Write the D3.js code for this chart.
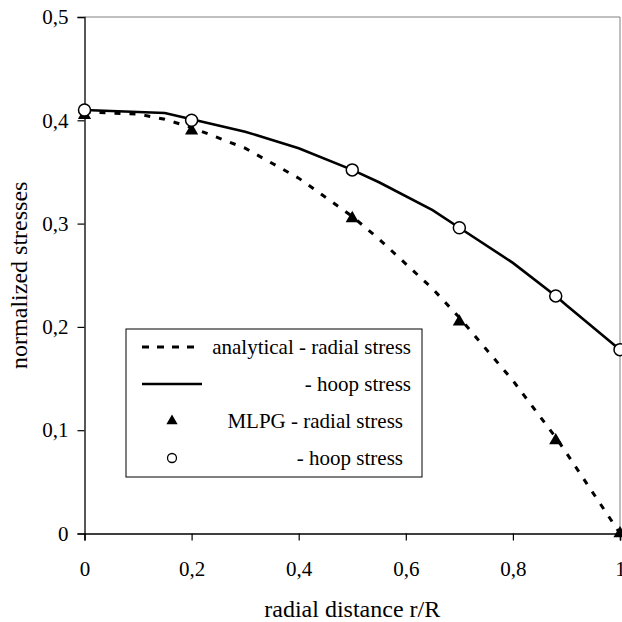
<!DOCTYPE html>
<html><head><meta charset="utf-8">
<script src="https://cdn.jsdelivr.net/npm/d3@7"></script>
<style>
html,body{margin:0;padding:0;background:#fff;}
svg{display:block;}
text{font-family:"Liberation Serif","Times New Roman",serif;fill:#000;}
</style></head>
<body><svg id="c" width="622" height="622"></svg>
<script>
// Data
const xTicks = [0, 0.2, 0.4, 0.6, 0.8, 1.0];
const xTickLabels = ["0", "0,2", "0,4", "0,6", "0,8", "1"];
const yTicks = [0, 0.1, 0.2, 0.3, 0.4, 0.5];
const yTickLabels = ["0", "0,1", "0,2", "0,3", "0,4", "0,5"];

const analyticalR = [0, 0.1, 0.15, 0.2, 0.3, 0.4, 0.5, 0.55, 0.65, 0.7, 0.8, 0.88, 0.9, 1.0];
const analyticalRadial = [0.408, 0.406, 0.401, 0.393, 0.373, 0.344, 0.307, 0.285, 0.237, 0.209, 0.148, 0.093, 0.078, 0.0];
const analyticalHoop   = [0.410, 0.408, 0.407, 0.401, 0.389, 0.373, 0.352, 0.340, 0.313, 0.296, 0.262, 0.230, 0.221, 0.178];

const mlpgR = [0, 0.2, 0.5, 0.7, 0.88, 1.0];
const mlpgRadial = [0.405, 0.390, 0.305, 0.205, 0.090, 0.0];
const mlpgHoop   = [0.410, 0.400, 0.352, 0.296, 0.230, 0.178];

const legendLabels = ["analytical - radial stress", "- hoop stress", "MLPG - radial stress", "- hoop stress"];

const svg = d3.select("#c");
const L = 84.5, R = 620, T = 17, B = 533.5;
const x = d3.scaleLinear().domain([0, 1]).range([L, R]);
const y = d3.scaleLinear().domain([0, 0.5]).range([B, T]);

// plot border (top/right gray)
svg.append("line").attr("x1", L).attr("x2", R).attr("y1", T).attr("y2", T).attr("stroke", "#808080").attr("stroke-width", 1);
svg.append("line").attr("x1", R).attr("x2", R).attr("y1", T).attr("y2", B).attr("stroke", "#808080").attr("stroke-width", 1);

// axes
const yAxis = d3.axisLeft(y).tickValues(yTicks).tickFormat((d, i) => yTickLabels[i]).tickSize(7).tickPadding(9);
const gy = svg.append("g").attr("transform", `translate(${L},0)`).call(yAxis);
const xAxis = d3.axisBottom(x).tickValues(xTicks).tickFormat((d, i) => xTickLabels[i]).tickSize(7).tickPadding(21);
const gx = svg.append("g").attr("transform", `translate(0,${B})`).call(xAxis);
[gx, gy].forEach(g => {
  g.select(".domain").attr("stroke", "#000").attr("stroke-width", 1.5);
  g.selectAll(".tick line").attr("stroke", "#000").attr("stroke-width", 1.2);
  g.selectAll("text").style("font-family", '"Liberation Serif", serif').style("font-size", "21px").attr("fill", "#000");
});
gy.select(".domain").attr("stroke", "#222");

// titles
svg.append("text").attr("x", x(0.5)).attr("y", 617).attr("text-anchor", "middle")
  .style("font-size", "24px").text("radial distance  r/R");
svg.append("text").attr("transform", `translate(27,${(T + B) / 2}) rotate(-90)`).attr("text-anchor", "middle")
  .style("font-size", "24px").text("normalized stresses");

// lines
const line = d3.line().x(d => x(d[0])).y(d => y(d[1]));
svg.append("path").datum(analyticalR.map((r, i) => [r, analyticalRadial[i]]))
  .attr("d", line).attr("fill", "none").attr("stroke", "#000").attr("stroke-width", 3).attr("stroke-dasharray", "6,9");
svg.append("path").datum(analyticalR.map((r, i) => [r, analyticalHoop[i]]))
  .attr("d", line).attr("fill", "none").attr("stroke", "#000").attr("stroke-width", 2.6);

// markers
const tri = d3.symbol().type(d3.symbolTriangle).size(75);
svg.selectAll(".tri").data(mlpgR.map((r, i) => [r, mlpgRadial[i]])).join("path")
  .attr("transform", d => `translate(${x(d[0])},${y(d[1])})`).attr("d", tri).attr("fill", "#000");
svg.selectAll(".circ").data(mlpgR.map((r, i) => [r, mlpgHoop[i]])).join("circle")
  .attr("cx", d => x(d[0])).attr("cy", d => y(d[1])).attr("r", 6).attr("fill", "#fff").attr("stroke", "#000").attr("stroke-width", 1.5);

// legend
const lg = svg.append("g");
lg.append("rect").attr("x", 126).attr("y", 329).attr("width", 296).attr("height", 148)
  .attr("fill", "#fff").attr("stroke", "#000").attr("stroke-width", 1);
const rowY = [347, 384, 421, 458];
lg.append("line").attr("x1", 142).attr("x2", 202).attr("y1", rowY[0]).attr("y2", rowY[0])
  .attr("stroke", "#000").attr("stroke-width", 3).attr("stroke-dasharray", "7,8");
lg.append("line").attr("x1", 142).attr("x2", 202).attr("y1", rowY[1]).attr("y2", rowY[1])
  .attr("stroke", "#000").attr("stroke-width", 2.6);
lg.append("path").attr("transform", `translate(172,${rowY[2]})`).attr("d", d3.symbol().type(d3.symbolTriangle).size(55)).attr("fill", "#000");
lg.append("circle").attr("cx", 172).attr("cy", rowY[3]).attr("r", 4.5).attr("fill", "#fff").attr("stroke", "#000").attr("stroke-width", 1.3);
const textEnd = [411, 411, 403, 403];
legendLabels.forEach((t, i) => {
  lg.append("text").attr("x", textEnd[i]).attr("y", rowY[i]).attr("dy", "0.35em").attr("text-anchor", "end")
    .style("font-size", "21px").text(t);
});
</script></body></html>
